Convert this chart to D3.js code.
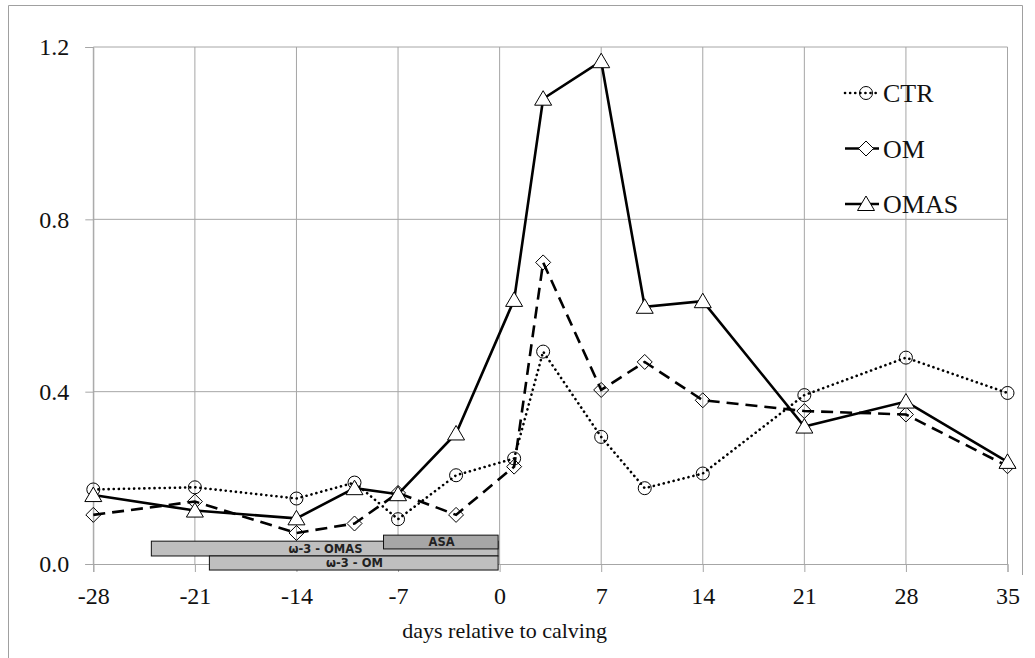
<!DOCTYPE html>
<html>
<head>
<meta charset="utf-8">
<script src="https://cdn.jsdelivr.net/npm/d3@7"></script>
<style>
body { margin: 0; background: #fff; }
svg { display: block; }
.tick text { font-family: "Liberation Serif", "Times New Roman", serif; fill: #111; }
</style>
</head>
<body>
<svg id="mainsvg"></svg>
<script>
// values
let days = [-28, -21, -14, -10, -7, -3, 1, 3, 7, 10, 14, 21, 28, 35];
let ctr  = [0.173, 0.178, 0.152, 0.189, 0.104, 0.206, 0.245, 0.493, 0.295, 0.176, 0.210, 0.392, 0.479, 0.397];
let om   = [0.114, 0.145, 0.072, 0.094, 0.165, 0.114, 0.226, 0.700, 0.404, 0.469, 0.380, 0.355, 0.347, 0.227];
let omas = [0.160, 0.124, 0.106, 0.176, 0.162, 0.303, 0.613, 1.080, 1.167, 0.597, 0.610, 0.319, 0.377, 0.237];
let seriesNames = ["CTR", "OM", "OMAS"];
let xTicks = [-28, -21, -14, -7, 0, 7, 14, 21, 28, 35];
let yTicks = [0, 0.4, 0.8, 1.2];
// treatment periods (days) drawn under the lines
let periodLabels = ["ω-3 - OMAS", "ω-3 - OM", "ASA"];
let periodStart = [-24, -20, -8];
let periodEnd = [0, 0, 0];
let periodTop = [0.053, 0.0186, 0.067];
let periodBottom = [0.0186, -0.014, 0.035];

let mainsvg = d3.select("#mainsvg"),
    svgWidth = 1035,
    svgHeight = 658,
    margin = {top: 47, right: 27.5, bottom: 94, left: 93.3},
    width = svgWidth - margin.left - margin.right,
    height = svgHeight - margin.top - margin.bottom,
    scaleX = d3.scaleLinear().domain([-28, 35]).range([0, width]),
    scaleY = d3.scaleLinear().domain([0, 1.2]).range([height, 0]);

mainsvg.attr("width", svgWidth).attr("height", svgHeight);

// outer chart frame
mainsvg.append("path")
    .attr("d", `M8.5,${svgHeight} V5.5 H1022.5 V575`)
    .attr("fill", "none")
    .attr("stroke", "#a0a0a0")
    .attr("stroke-width", 1);

let mainGroup = mainsvg.append("g").attr("transform", `translate(${margin.left}, ${margin.top})`);

// grid
let grid = mainGroup.append("g").attr("class", "grid");
grid.selectAll("line.v").data(xTicks).enter().append("line")
    .attr("x1", d => scaleX(d)).attr("x2", d => scaleX(d))
    .attr("y1", 0).attr("y2", height)
    .attr("stroke", "#a6a6a6").attr("stroke-width", 1);
grid.selectAll("line.h").data(yTicks.filter(d => d > 0)).enter().append("line")
    .attr("x1", 0).attr("x2", width)
    .attr("y1", d => scaleY(d)).attr("y2", d => scaleY(d))
    .attr("stroke", "#a6a6a6").attr("stroke-width", 1);

// axes
let xAxis = mainGroup.append("g")
    .attr("class", "axis axis--x")
    .attr("transform", `translate(0,${height})`)
    .call(d3.axisBottom(scaleX).tickValues(xTicks).tickSize(8).tickPadding(15).tickFormat(d => d));
let yAxis = mainGroup.append("g")
    .attr("class", "axis axis--y")
    .call(d3.axisLeft(scaleY).tickValues(yTicks).tickSize(8).tickPadding(16).tickFormat(d3.format(".1f")));
[xAxis, yAxis].forEach(a => {
    a.select(".domain").attr("stroke", "#a6a6a6");
    a.selectAll(".tick line").attr("stroke", "#a6a6a6");
    a.selectAll(".tick text").style("font-size", "24px");
});
xAxis.selectAll(".tick text").text(d => d < 0 ? "-" + Math.abs(d) : d);

mainGroup.append("text")
    .attr("x", scaleX(0) + 5)
    .attr("y", height + 74)
    .attr("text-anchor", "middle")
    .style("font-family", '"Liberation Serif", "Times New Roman", serif')
    .style("font-size", "22px")
    .attr("fill", "#111")
    .text("days relative to calving");

// treatment period boxes
let periods = periodLabels.map((label, i) => ({
    label: label, start: periodStart[i], end: periodEnd[i], top: periodTop[i], bottom: periodBottom[i]
}));
let pg = mainGroup.append("g").attr("class", "periods")
    .selectAll("g").data(periods).enter().append("g");
pg.append("rect")
    .attr("x", d => scaleX(d.start))
    .attr("y", d => scaleY(d.top))
    .attr("width", d => scaleX(d.end) - scaleX(d.start) - 1.5)
    .attr("height", d => scaleY(d.bottom) - scaleY(d.top))
    .attr("fill", d => d.label === "ASA" ? "#a6a6a6" : "#bfbfbf")
    .attr("stroke", "#111")
    .attr("stroke-width", 1);
pg.append("text")
    .attr("x", d => (scaleX(d.start) + scaleX(d.end)) / 2)
    .attr("y", d => (scaleY(d.top) + scaleY(d.bottom)) / 2)
    .attr("dy", "0.38em")
    .attr("text-anchor", "middle")
    .style("font-family", '"DejaVu Sans", sans-serif')
    .style("font-weight", "bold")
    .style("font-size", "11.5px")
    .attr("fill", "#222")
    .text(d => d.label);

// series
let series = [
    {name: seriesNames[0], values: ctr, dash: "0.1 5", cap: "round", marker: "circle"},
    {name: seriesNames[1], values: om, dash: "12 7", cap: "butt", marker: "diamond"},
    {name: seriesNames[2], values: omas, dash: null, cap: "butt", marker: "triangle"}
];
let line = d3.line().x(d => scaleX(d[0])).y(d => scaleY(d[1]));

function markerPath(type) {
    if (type === "circle") return d3.symbol(d3.symbolCircle, Math.PI * 6.5 * 6.5)();
    if (type === "diamond") return "M0,-7.5L7.5,0L0,7.5L-7.5,0Z";
    return "M0,-8L8.5,6.5L-8.5,6.5Z";
}
function markerFill(type) {
    return type === "triangle" ? "#fff" : "none";
}

let sg = mainGroup.append("g").attr("class", "series");
series.forEach(s => {
    let pts = days.map((d, i) => [d, s.values[i]]);
    sg.append("path")
        .datum(pts)
        .attr("d", line)
        .attr("fill", "none")
        .attr("stroke", "#000")
        .attr("stroke-width", 2.6)
        .attr("stroke-linecap", s.cap)
        .attr("stroke-dasharray", s.dash);
});
series.forEach(s => {
    let pts = days.map((d, i) => [d, s.values[i]]);
    sg.append("g").selectAll("path").data(pts).enter().append("path")
        .attr("transform", d => `translate(${scaleX(d[0])},${scaleY(d[1])})`)
        .attr("d", markerPath(s.marker))
        .attr("fill", markerFill(s.marker))
        .attr("stroke", "#000")
        .attr("stroke-width", 1);
});

// legend
let legend = mainGroup.append("g").attr("class", "legend")
    .attr("transform", `translate(${845 - margin.left}, ${93 - margin.top})`);
let li = legend.selectAll("g").data(series).enter().append("g")
    .attr("transform", (d, i) => `translate(0, ${i * 55.5})`);
li.append("line")
    .attr("x1", 0).attr("x2", 34).attr("y1", 0).attr("y2", 0)
    .attr("stroke", "#000").attr("stroke-width", 2.6)
    .attr("stroke-linecap", d => d.cap)
    .attr("stroke-dasharray", d => d.dash ? (d.marker === "circle" ? "0.1 5" : null) : null);
li.append("path")
    .attr("transform", "translate(21,0)")
    .attr("d", d => markerPath(d.marker))
    .attr("fill", d => d.marker === "circle" ? "none" : "#fff")
    .attr("stroke", "#000")
    .attr("stroke-width", 1);
li.append("text")
    .attr("x", 38)
    .attr("y", 0)
    .attr("dy", "0.35em")
    .style("font-family", '"Liberation Serif", "Times New Roman", serif')
    .style("font-size", "26px")
    .attr("fill", "#111")
    .text(d => d.name);
</script>
</body>
</html>
